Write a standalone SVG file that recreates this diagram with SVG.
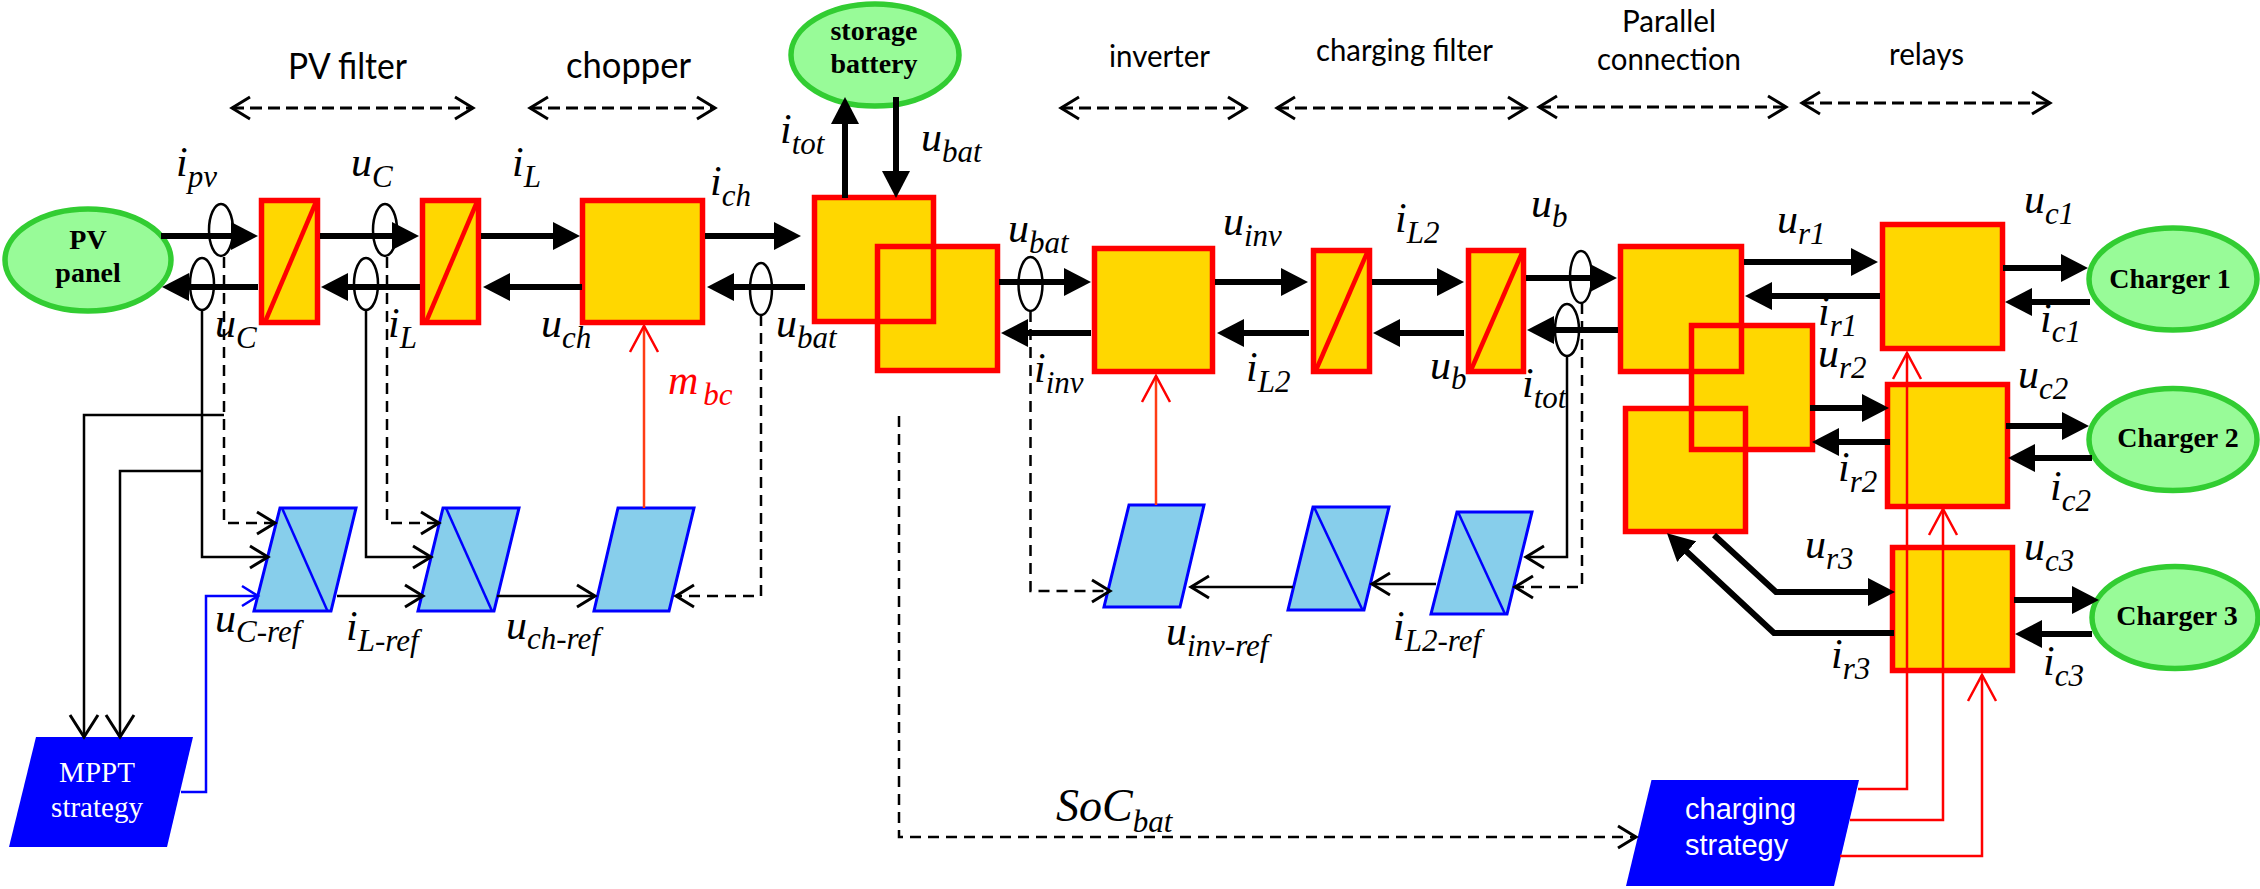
<svg xmlns="http://www.w3.org/2000/svg" width="2260" height="889" viewBox="0 0 2260 889">
<style>
.y{fill:#FFD700;stroke:#FF0000;stroke-width:5.5}
.yf{fill:#FFD700;stroke:none}
.o{fill:none;stroke:#FF0000;stroke-width:5.5}
.d{fill:none;stroke:#FF0000;stroke-width:4.5}
.g{fill:#98FB98;stroke:#32CD32;stroke-width:5.5}
.b{fill:#87CEEB;stroke:#0000FF;stroke-width:3}
.bd{fill:none;stroke:#0000FF;stroke-width:2.5}
.s{fill:#0000FF}
.t{fill:none;stroke:#000;stroke-width:6;marker-end:url(#h)}
.p{fill:none;stroke:#000;stroke-width:2.5}
.e{fill:none;stroke:#000;stroke-width:2.5;stroke-dasharray:11 7}
.sd{fill:none;stroke:#000;stroke-width:3;stroke-dasharray:12 6}
.ar{marker-end:url(#a)}
.tw{marker-start:url(#a);marker-end:url(#a)}
.ring{fill:none;stroke:#000;stroke-width:2.5}
.r{fill:none;stroke:#FF0000;stroke-width:2.5;marker-end:url(#ar)}
.ro{fill:none;stroke:#FF3C14;stroke-width:2.5;marker-end:url(#ar)}
text{text-anchor:start}
.n{font:bold 28px "Liberation Serif",serif;fill:#000;text-anchor:middle}
.w{font:29px "Liberation Serif",serif;fill:#fff;text-anchor:middle}
.wa{font:29px "Liberation Sans",sans-serif;fill:#fff}
.c{font-family:Lato,"Open Sans",sans-serif;font-size:30px;fill:#000}
.c2{font-family:Lato,"Open Sans",sans-serif;font-size:36px;fill:#000}
.m{font:italic 42px "Liberation Serif",serif;fill:#000}
.m tspan{font-size:31px}
</style>
<defs>
<marker id="h" markerUnits="userSpaceOnUse" viewBox="0 -14 27 28" markerWidth="27" markerHeight="28" refX="1" refY="0" orient="auto"><path d="M0-14L27 0L0 14Z" fill="#000"/></marker>
<marker id="a" markerUnits="userSpaceOnUse" viewBox="-21 -14 24 28" markerWidth="24" markerHeight="28" refX="0" refY="0" orient="auto-start-reverse"><path d="M-18-11L0 0L-18 11" fill="none" stroke="#000" stroke-width="3"/></marker>
<marker id="ak" markerUnits="userSpaceOnUse" viewBox="-24 -16 27 32" markerWidth="27" markerHeight="32" refX="0" refY="0" orient="auto"><path d="M-22-14L0 0L-22 14" fill="none" stroke="#000" stroke-width="3"/></marker>
<marker id="ab" markerUnits="userSpaceOnUse" viewBox="-21 -14 24 28" markerWidth="24" markerHeight="28" refX="0" refY="0" orient="auto"><path d="M-16-10L0 0L-16 10" fill="none" stroke="#0000FF" stroke-width="2.5"/></marker>
<marker id="ar" markerUnits="userSpaceOnUse" viewBox="-28 -16 31 32" markerWidth="31" markerHeight="32" refX="0" refY="0" orient="auto"><path d="M-26-14L0 0L-26 14" fill="none" stroke="#FF0000" stroke-width="2.5"/></marker>
</defs>

<g id="pv-panel"><ellipse class="g" cx="88" cy="260" rx="83" ry="51"/><text class="n" x="88" y="249">PV</text><text class="n" x="88" y="282">panel</text></g>
<g id="pv-filter-1"><rect class="y" x="261.500" y="200.500" width="56" height="122"/><path class="d" d="M265 322L316 202"/></g>
<g id="pv-filter-2"><rect class="y" x="422.500" y="200.500" width="56" height="122"/><path class="d" d="M426 322L477 202"/></g>
<g id="chopper"><rect class="y" x="582.500" y="200.500" width="120" height="122"/></g>
<g id="storage-battery"><ellipse class="g" cx="875" cy="55" rx="84" ry="51"/><text class="n" x="874" y="40">storage</text><text class="n" x="874" y="73">battery</text></g>
<g id="dc-bus"><rect class="yf" x="814" y="197" width="120" height="125"/><rect class="yf" x="877" y="246" width="121" height="125"/><rect class="o" x="814.500" y="197.500" width="119" height="124"/><rect class="o" x="877.500" y="246.500" width="120" height="124"/></g>
<g id="inverter"><rect class="y" x="1094.500" y="248.500" width="118" height="123"/></g>
<g id="charge-filter-1"><rect class="y" x="1313.500" y="250.500" width="56" height="121"/><path class="d" d="M1316 370L1367 253"/></g>
<g id="charge-filter-2"><rect class="y" x="1468.500" y="250.500" width="55" height="121"/><path class="d" d="M1471 370L1522 253"/></g>
<g id="parallel"><rect class="yf" x="1620" y="246" width="122" height="126"/><rect class="yf" x="1691" y="325" width="122" height="125"/><rect class="yf" x="1625" y="408" width="121" height="124"/><rect class="o" x="1620.500" y="246.500" width="121" height="125"/><rect class="o" x="1691.500" y="325.500" width="121" height="124"/><rect class="o" x="1625.500" y="408.500" width="120" height="123"/></g>
<g id="relay-1"><rect class="y" x="1882.500" y="224.500" width="120" height="124"/></g>
<g id="relay-2"><rect class="y" x="1887.500" y="384.500" width="120" height="122"/></g>
<g id="relay-3"><rect class="y" x="1892.500" y="547.500" width="120" height="123"/></g>
<g id="charger-1"><ellipse class="g" cx="2173" cy="279" rx="84" ry="51"/><text class="n" x="2170" y="288">Charger 1</text></g>
<g id="charger-2"><ellipse class="g" cx="2173" cy="439.500" rx="84" ry="51"/><text class="n" x="2178" y="447">Charger 2</text></g>
<g id="charger-3"><ellipse class="g" cx="2175" cy="617.500" rx="83" ry="51"/><text class="n" x="2177" y="625">Charger 3</text></g>
<g id="ctrl-uc"><path class="b" d="M280 508H356L331 611H254Z"/><path class="bd" d="M282 508L327.500 611"/></g>
<g id="ctrl-il"><path class="b" d="M443 508H519L494 611H418Z"/><path class="bd" d="M446 508L492 611"/></g>
<g id="ctrl-uch"><path class="b" d="M618 508H694L669 611H594Z"/></g>
<g id="ctrl-uinv"><path class="b" d="M1129 505H1204L1180 607H1104Z"/></g>
<g id="ctrl-il2"><path class="b" d="M1313 507H1389L1364 610H1288Z"/><path class="bd" d="M1314 507L1362.500 610"/></g>
<g id="ctrl-ub"><path class="b" d="M1457 512H1532L1507 614H1431Z"/><path class="bd" d="M1458 512L1505 614"/></g>
<g id="mppt"><path class="s" d="M36 737H193L167 847H9Z"/><text class="w" x="97" y="782">MPPT</text><text class="w" x="97" y="817">strategy</text></g>
<g id="charging-strategy"><path class="s" d="M1651.500 780H1859L1834 886H1626Z"/><text class="wa" x="1685" y="819">charging</text><text class="wa" x="1685" y="855">strategy</text></g>

<g id="connectors">
<path class="t" d="M161 236H232"/><path class="t" d="M320 236H393"/><path class="t" d="M481 236H554"/><path class="t" d="M705 236H775"/>
<path class="t" d="M258 287H188"/><path class="t" d="M420 287H347"/><path class="t" d="M582 287H509"/><path class="t" d="M805 287H733"/>
<path class="t" d="M845 198V123"/><path class="t" d="M896 97V172"/>
<path class="t" d="M999 282H1065"/><path class="t" d="M1091 333H1027"/><path class="t" d="M1215 282H1282"/><path class="t" d="M1309 333H1243"/><path class="t" d="M1372 282H1438"/><path class="t" d="M1464 333H1399"/>
<path class="t" d="M1526 278H1591"/><path class="t" d="M1618 330H1553"/>
<path class="t" d="M1744 262H1852"/><path class="t" d="M1880 296H1771"/><path class="t" d="M2003 268H2062"/><path class="t" d="M2090 302H2031"/>
<path class="t" d="M1810 408H1863"/><path class="t" d="M1890 442H1838"/><path class="t" d="M2006 426H2063"/><path class="t" d="M2092 458H2034"/>
<path class="t" d="M1714 535L1776 592H1869"/><path class="t" d="M1894 633H1774L1686 551"/><path class="t" d="M2014 600H2073"/><path class="t" d="M2092 634H2041"/>
<ellipse class="ring" cx="221" cy="230" rx="12" ry="26"/><ellipse class="ring" cx="202" cy="284" rx="12" ry="26"/><ellipse class="ring" cx="385" cy="230" rx="12" ry="26"/><ellipse class="ring" cx="366" cy="284" rx="12" ry="26"/><ellipse class="ring" cx="761" cy="289" rx="11" ry="26"/><ellipse class="ring" cx="1030.500" cy="284" rx="12" ry="27"/><ellipse class="ring" cx="1581" cy="277" rx="11" ry="26"/><ellipse class="ring" cx="1567" cy="330" rx="12" ry="26"/>
<path class="p" style="marker-end:url(#a)" d="M202 310V557H268"/>
<path class="p" style="marker-end:url(#a)" d="M366 310V557H431"/>
<path class="e ar" d="M224 257V523H275"/>
<path class="e ar" d="M387 257V523H439"/>
<path class="p" style="marker-end:url(#ak)" d="M224 415H84V737"/>
<path class="p" style="marker-end:url(#ak)" d="M202 471H120V737"/>
<path class="p" style="marker-end:url(#a)" d="M337 596H423"/>
<path class="p" style="marker-end:url(#a)" d="M497 596H595"/>
<path class="e ar" d="M761 315V596H676"/>
<path fill="none" stroke="#0000FF" stroke-width="2.500" marker-end="url(#ab)" d="M181 792H206V596H258"/>
<path class="ro" d="M644 508V326"/>
<path class="ro" d="M1156 505V376"/>
<path class="e ar" d="M1030.500 311V591H1110"/>
<path class="p" style="marker-end:url(#a)" d="M1567 356V557H1526"/>
<path class="e ar" d="M1582 303V587H1515"/>
<path class="p" style="marker-end:url(#a)" d="M1436 584H1372"/>
<path class="p" style="marker-end:url(#a)" d="M1293 587H1191"/>
<path class="e ar" d="M899 416V837H1636"/>
<path class="r" d="M1858 789H1907V353"/>
<path class="r" d="M1850 820H1943V509"/>
<path class="r" d="M1840 856H1982V675"/>
<path class="sd tw" d="M232 108H473"/>
<path class="sd tw" d="M530 108H715"/>
<path class="sd tw" d="M1061 108H1246"/>
<path class="sd tw" d="M1277 108H1526"/>
<path class="sd tw" d="M1539 107H1786"/>
<path class="sd tw" d="M1802 103H2050"/>
</g>

<g id="section-labels">
<text class="c2" x="288" y="79" textLength="119" lengthAdjust="spacingAndGlyphs">PV filter</text>
<text class="c2" x="566" y="78" textLength="125" lengthAdjust="spacingAndGlyphs">chopper</text>
<text class="c" x="1109" y="67" textLength="101" lengthAdjust="spacingAndGlyphs">inverter</text>
<text class="c" x="1316" y="61" textLength="177" lengthAdjust="spacingAndGlyphs">charging filter</text>
<text class="c" x="1622" y="32" textLength="94" lengthAdjust="spacingAndGlyphs">Parallel</text>
<text class="c" x="1597" y="70" textLength="144" lengthAdjust="spacingAndGlyphs">connection</text>
<text class="c" x="1889" y="65" textLength="75" lengthAdjust="spacingAndGlyphs">relays</text>
</g>
<g id="signal-labels">
<text class="m" x="176" y="176">i<tspan dy="11">pv</tspan></text>
<text class="m" x="351" y="176">u<tspan dy="11">C</tspan></text>
<text class="m" x="512" y="176">i<tspan dy="11">L</tspan></text>
<text class="m" x="710" y="195">i<tspan dy="11">ch</tspan></text>
<text class="m" x="215" y="337">u<tspan dy="11">C</tspan></text>
<text class="m" x="388" y="337">i<tspan dy="11">L</tspan></text>
<text class="m" x="541" y="337">u<tspan dy="11">ch</tspan></text>
<text class="m" x="668" y="394" style="fill:#FF0000">m<tspan dx="5" dy="11">bc</tspan></text>
<text class="m" x="776" y="337">u<tspan dy="11">bat</tspan></text>
<text class="m" x="780" y="143">i<tspan dy="11">tot</tspan></text>
<text class="m" x="921" y="151">u<tspan dy="11">bat</tspan></text>
<text class="m" x="1008" y="242">u<tspan dy="11">bat</tspan></text>
<text class="m" x="1034" y="382">i<tspan dy="11">inv</tspan></text>
<text class="m" x="1223" y="235">u<tspan dy="11">inv</tspan></text>
<text class="m" x="1395" y="232">i<tspan dy="11">L2</tspan></text>
<text class="m" x="1246" y="381">i<tspan dy="11">L2</tspan></text>
<text class="m" x="1531" y="217">u<tspan dy="10">b</tspan></text>
<text class="m" x="1430" y="379">u<tspan dy="10">b</tspan></text>
<text class="m" x="1522" y="397">i<tspan dy="11">tot</tspan></text>
<text class="m" x="1777" y="233">u<tspan dy="11">r1</tspan></text>
<text class="m" x="1818" y="325">i<tspan dy="11">r1</tspan></text>
<text class="m" x="1818" y="367">u<tspan dy="11">r2</tspan></text>
<text class="m" x="2024" y="213">u<tspan dy="11">c1</tspan></text>
<text class="m" x="2040" y="332">i<tspan dy="10">c1</tspan></text>
<text class="m" x="2018" y="388">u<tspan dy="11">c2</tspan></text>
<text class="m" x="1838" y="481">i<tspan dy="11">r2</tspan></text>
<text class="m" x="2050" y="500">i<tspan dy="11">c2</tspan></text>
<text class="m" x="1805" y="558">u<tspan dy="11">r3</tspan></text>
<text class="m" x="2024" y="560">u<tspan dy="11">c3</tspan></text>
<text class="m" x="1831" y="668">i<tspan dy="11">r3</tspan></text>
<text class="m" x="2043" y="675">i<tspan dy="11">c3</tspan></text>
<text class="m" x="215" y="632">u<tspan dy="10">C-ref</tspan></text>
<text class="m" x="346" y="640">i<tspan dy="11">L-ref</tspan></text>
<text class="m" x="506" y="639">u<tspan dy="10">ch-ref</tspan></text>
<text class="m" x="1166" y="645">u<tspan dy="11">inv-ref</tspan></text>
<text class="m" x="1393" y="640">i<tspan dy="11">L2-ref</tspan></text>
<text class="m" x="1056" y="821" style="font-size:46px">SoC<tspan dy="11">bat</tspan></text>
</g>
</svg>
